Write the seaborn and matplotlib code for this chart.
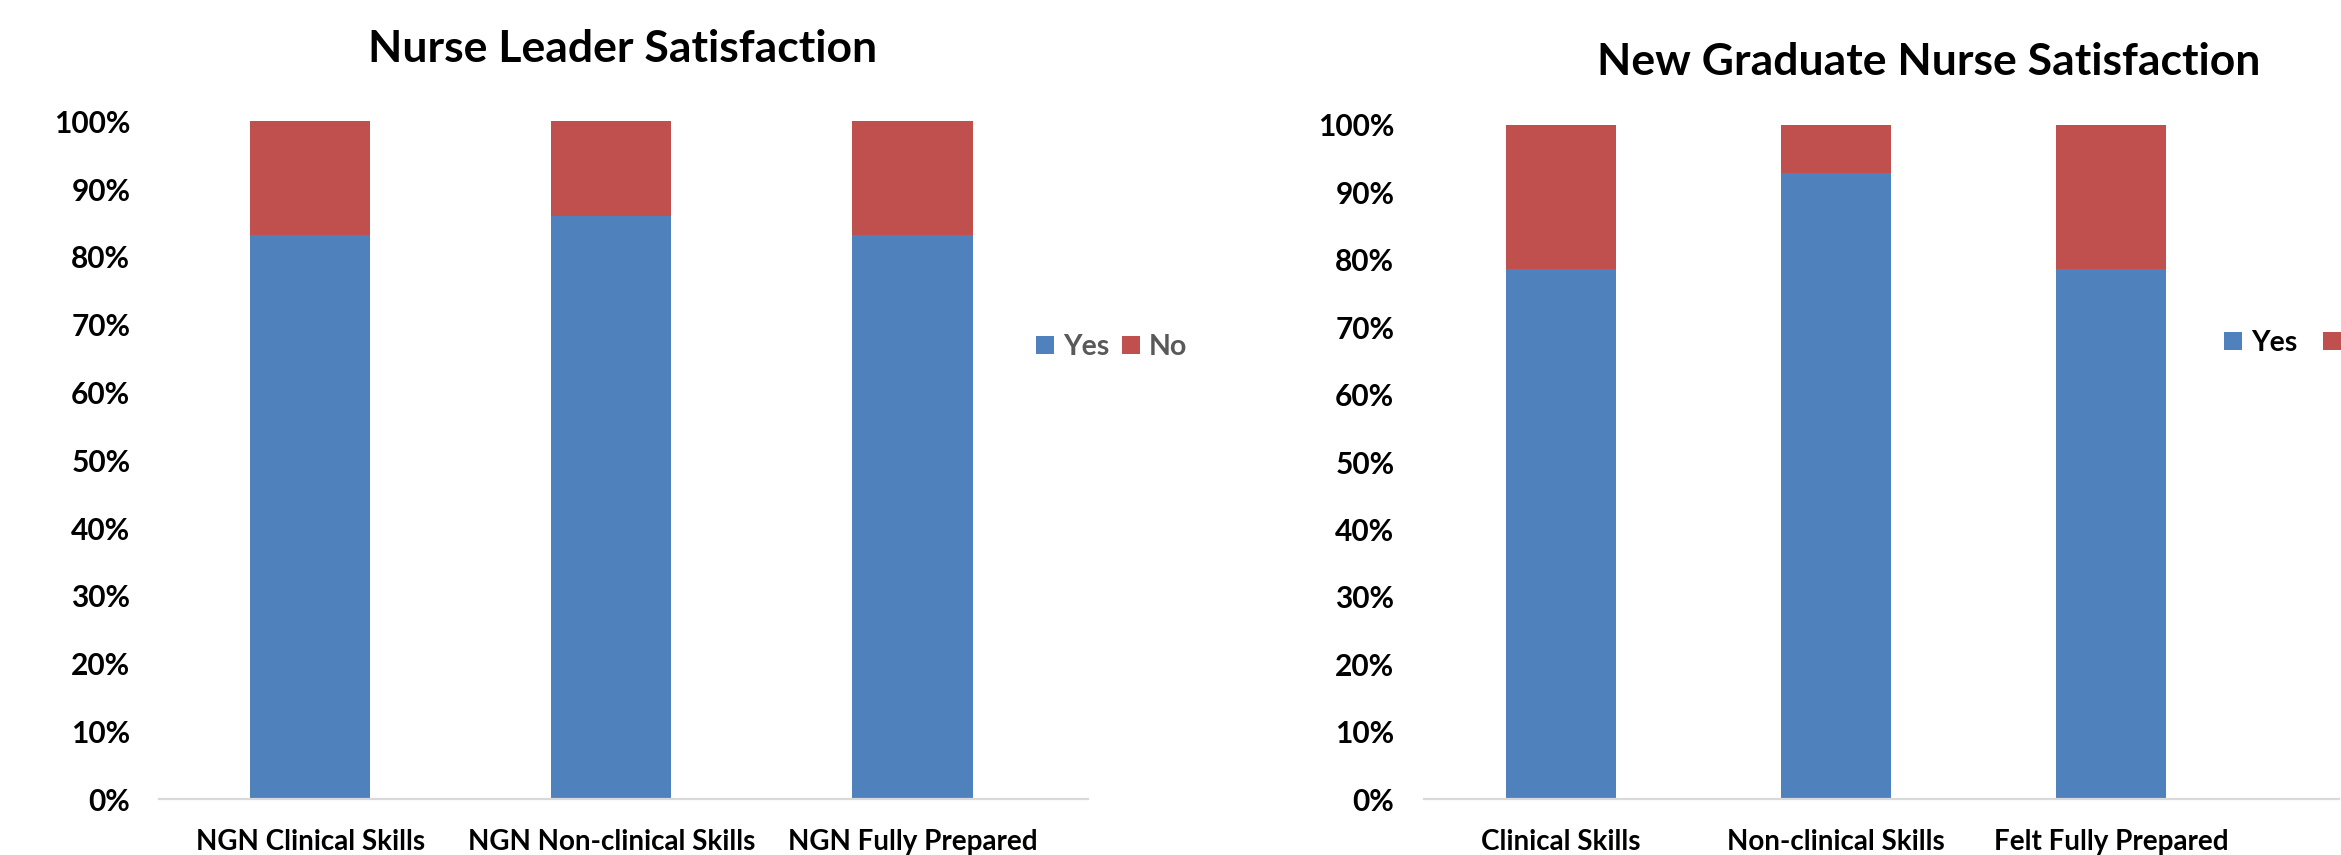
import matplotlib
matplotlib.use("Agg")
import matplotlib.pyplot as plt
import seaborn as sns
import pandas as pd
from matplotlib.patches import Patch

# Survey results (percent of respondents)
leader_categories = ["NGN Clinical Skills", "NGN Non-clinical Skills", "NGN Fully Prepared"]
leader_yes = [83.3, 86.0, 83.3]
leader_no = [16.7, 14.0, 16.7]

graduate_categories = ["Clinical Skills", "Non-clinical Skills", "Felt Fully Prepared"]
graduate_yes = [78.6, 92.9, 78.6]
graduate_no = [21.4, 7.1, 21.4]

series_labels = ["Yes", "No"]
y_ticks = [0, 10, 20, 30, 40, 50, 60, 70, 80, 90, 100]
y_tick_labels = [f"{t}%" for t in y_ticks]

leader_title = "Nurse Leader Satisfaction"
graduate_title = "New Graduate Nurse Satisfaction"

YES_COLOR = "#4F81BD"
NO_COLOR = "#C0504D"
AXIS_COLOR = "#D9D9D9"

sns.set_theme(style="white")
plt.rcParams["font.family"] = ["Lato", "DejaVu Sans"]

W, H = 2341, 855
fig = plt.figure(figsize=(W / 100, H / 100), dpi=100)


def add_px_axes(x0, x1, y_top, y_bottom):
    return fig.add_axes([x0 / W, 1 - y_bottom / H, (x1 - x0) / W, (y_bottom - y_top) / H])


def stacked_panel(ax, categories, yes, no, xmax):
    df = pd.DataFrame({"category": categories, "yes": yes, "no": no})
    df["total"] = df["yes"] + df["no"]
    sns.barplot(data=df, x="category", y="total", color=NO_COLOR, width=0.4,
                saturation=1, errorbar=None, ax=ax, linewidth=0)
    sns.barplot(data=df, x="category", y="yes", color=YES_COLOR, width=0.4,
                saturation=1, errorbar=None, ax=ax, linewidth=0)
    ax.set_xlim(-0.5, xmax)
    ax.set_ylim(0, 100)
    ax.set_xlabel("")
    ax.set_ylabel("")
    ax.set_yticks(y_ticks)
    ax.set_yticklabels(y_tick_labels, fontsize=21.5, fontweight="bold", color="black")
    ax.set_xticks(range(len(categories)))
    ax.set_xticklabels(categories, fontsize=20, fontweight="bold", color="black")
    ax.tick_params(axis="y", length=0, pad=21)
    ax.tick_params(axis="x", length=0, pad=21.5)
    for side in ("top", "right", "left"):
        ax.spines[side].set_visible(False)
    ax.spines["bottom"].set_color(AXIS_COLOR)
    ax.spines["bottom"].set_linewidth(1.6)
    ax.grid(False)
    ax.set_facecolor("none")


ax_left = add_px_axes(159.5, 1088, 121.5, 799)
stacked_panel(ax_left, leader_categories, leader_yes, leader_no, xmax=2.583)

ax_right = add_px_axes(1423.5, 2339, 125, 799)
stacked_panel(ax_right, graduate_categories, graduate_yes, graduate_no, xmax=2.827)

fig.text(623 / W, 1 - 61.7 / H, leader_title, ha="center", va="baseline",
         fontsize=32, fontweight="bold", color="black")
fig.text(1929 / W, 1 - 75 / H, graduate_title, ha="center", va="baseline",
         fontsize=32, fontweight="bold", color="black")


def add_legend(x_px, y_px, text_color, col_gap):
    handles = [Patch(facecolor=YES_COLOR, edgecolor="none"),
               Patch(facecolor=NO_COLOR, edgecolor="none")]
    fs = 20.5
    leg = fig.legend(handles, series_labels, loc="center left",
                     bbox_to_anchor=(x_px / W, 1 - y_px / H), ncol=2, frameon=False,
                     prop={"size": fs, "weight": "bold"},
                     handlelength=0.63, handleheight=0.63, handletextpad=0.32,
                     columnspacing=col_gap, borderpad=0, borderaxespad=0)
    for t in leg.get_texts():
        t.set_color(text_color)
    return leg


add_legend(1036, 347, "#595959", 0.45)
add_legend(2224, 343, "black", 0.9)

fig.savefig("out.png", dpi=100, facecolor="white")
